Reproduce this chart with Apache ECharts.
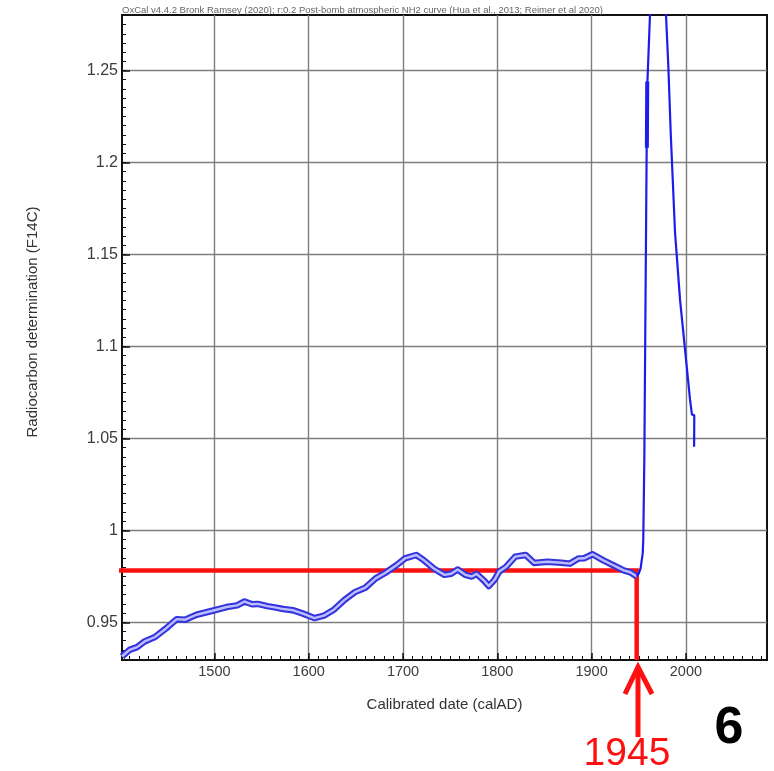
<!DOCTYPE html>
<html>
<head>
<meta charset="utf-8">
<script src="https://cdn.jsdelivr.net/npm/echarts@6/dist/echarts.min.js"></script>
<style>
html, body { margin: 0; padding: 0; background: #fff; }
#chart { width: 774px; height: 771px; }
</style>
</head>
<body>
<div id="chart"></div>
<script>
// calibration band before the bomb peak (calAD, F14C)
var bandYears = [1402, 1410, 1418, 1426, 1437, 1449, 1460, 1469, 1481, 1499,
    1513, 1524, 1532, 1540, 1546, 1556, 1564, 1573, 1583, 1594,
    1606, 1616, 1627, 1638, 1649, 1660, 1671, 1681, 1693, 1702,
    1714, 1722, 1733, 1744, 1751, 1758, 1766, 1773, 1778, 1786,
    1791, 1797, 1802, 1809, 1819, 1830, 1839, 1853, 1868, 1877,
    1886, 1892, 1901, 1912, 1923, 1934, 1941, 1948];
var bandValues = [0.9314, 0.9350, 0.9365, 0.9396, 0.9420, 0.9468, 0.9517, 0.9514, 0.9541, 0.9564,
    0.9583, 0.9592, 0.9613, 0.9598, 0.9600, 0.9588, 0.9581, 0.9572, 0.9566, 0.9547,
    0.9523, 0.9536, 0.9570, 0.9622, 0.9664, 0.9688, 0.9739, 0.9768, 0.9810, 0.9847,
    0.9866, 0.9838, 0.9791, 0.9758, 0.9764, 0.9787, 0.9758, 0.9749, 0.9763, 0.9726,
    0.9697, 0.9731, 0.9776, 0.9800, 0.9857, 0.9866, 0.9823, 0.9829, 0.9824, 0.9819,
    0.9847, 0.9848, 0.9870, 0.9838, 0.9810, 0.9782, 0.9772, 0.9749];

// post-bomb curve (goes off the top of the plot)
var bombYears = [1948, 1950, 1952, 1954.2, 1954.8, 1955.9, 1958.4, 1959.2, 1961.9, 1964,
    1967, 1972, 1978.9, 1981.4, 1983.9, 1988.5, 1993.8, 1999.1, 2004.4, 2006.4,
    2008.9, 2008.7];
var bombValues = [0.9749, 0.9765, 0.9795, 0.9876, 0.9948, 1.0383, 1.2084, 1.2440, 1.2802, 1.75,
    1.80, 1.50, 1.2802, 1.2521, 1.2159, 1.1617, 1.1253, 1.0981, 1.0709, 1.0630,
    1.0625, 1.0455];
var bombWideYears = [1958.6, 1959.0];
var bombWideValues = [1.208, 1.244];

// red marker
var markLevel = 0.9782;
var markYear = 1947.8;
var markStartYear = 1389.3;
var markLabel = '1945';

var xMin = 1402, xMax = 2086;
var yMin = 0.9295, yMax = 1.2802;

var caption = 'OxCal v4.4.2 Bronk Ramsey (2020); r:0.2 Post-bomb atmospheric NH2 curve (Hua et al., 2013; Reimer et al 2020)';

function pairs(xs, ys) {
    var out = [];
    for (var i = 0; i < xs.length; i++) out.push([xs[i], ys[i]]);
    return out;
}

// minor tick positions
var xMinorTicks = [];
for (var yr = 1410; yr < xMax; yr += 10) xMinorTicks.push(yr);
var yMinorTicks = [];
for (var k = 186; k * 0.005 < yMax; k++) yMinorTicks.push(+(k * 0.005).toFixed(3));

var font = 'Liberation Sans, Arial, sans-serif';
var plain = function (v) { return String(v); };

var myChart = echarts.init(document.getElementById('chart'));
myChart.setOption({
    animation: false,
    backgroundColor: '#fff',
    textStyle: { fontFamily: font },
    grid: {
        left: 122, right: 7, top: 15, bottom: 111,
        show: true, borderColor: '#111', borderWidth: 2,
        outerBoundsMode: 'none'
    },
    xAxis: [
        {
            type: 'value', min: xMin, max: xMax, splitNumber: 7,
            minInterval: 100, maxInterval: 100, position: 'bottom',
            name: 'Calibrated date (calAD)', nameLocation: 'middle', nameGap: 37,
            nameTextStyle: { color: '#333', fontSize: 15, fontFamily: font },
            axisLine: { show: true, lineStyle: { color: '#111', width: 2 } },
            axisTick: { inside: true, length: 7, lineStyle: { color: '#111', width: 1.5 } },
            axisLabel: { color: '#3c3c3c', fontSize: 14.5, margin: 4, fontFamily: font,
                showMinLabel: false, showMaxLabel: false, formatter: plain },
            splitLine: { show: true, showMinLine: false, showMaxLine: false,
                lineStyle: { color: '#7e7e7e', width: 1.4 } }
        },
        {
            type: 'value', min: xMin, max: xMax, position: 'bottom', offset: 0,
            axisLine: { show: false }, axisLabel: { show: false }, splitLine: { show: false },
            axisTick: { inside: true, length: 4, customValues: xMinorTicks,
                lineStyle: { color: '#111', width: 1 } }
        }
    ],
    yAxis: [
        {
            type: 'value', min: yMin, max: yMax, splitNumber: 7,
            minInterval: 0.05, maxInterval: 0.05, position: 'left',
            axisLine: { show: true, lineStyle: { color: '#111', width: 2 } },
            axisTick: { inside: true, length: 8, lineStyle: { color: '#111', width: 1.5 } },
            axisLabel: { color: '#3c3c3c', fontSize: 16, margin: 4, fontFamily: font,
                showMinLabel: false, showMaxLabel: false, formatter: plain },
            splitLine: { show: true, showMinLine: false, showMaxLine: false,
                lineStyle: { color: '#7e7e7e', width: 1.4 } }
        },
        {
            type: 'value', min: yMin, max: yMax, position: 'left', offset: 0,
            axisLine: { show: false }, axisLabel: { show: false }, splitLine: { show: false },
            axisTick: { inside: true, length: 4, customValues: yMinorTicks,
                lineStyle: { color: '#111', width: 1 } }
        }
    ],
    series: [
        {
            name: 'marker', type: 'line', clip: false, silent: true, z: 2,
            showSymbol: false, symbol: 'none',
            data: [[markStartYear, markLevel], [markYear, markLevel], [markYear, yMin]],
            lineStyle: { color: '#ff1010', width: 4.5, join: 'miter', cap: 'butt' }
        },
        {
            name: 'band', type: 'line', showSymbol: false, symbol: 'none', z: 3,
            data: pairs(bandYears, bandValues),
            lineStyle: { color: '#3434dc', width: 6.5, join: 'round' }
        },
        {
            name: 'bandInner', type: 'line', showSymbol: false, symbol: 'none', z: 4,
            data: pairs(bandYears, bandValues),
            lineStyle: { color: '#bcbcff', width: 2.4, join: 'round' }
        },
        {
            name: 'bomb', type: 'line', showSymbol: false, symbol: 'none', z: 5,
            data: pairs(bombYears, bombValues),
            lineStyle: { color: '#1c1cf0', width: 2.2 }
        },
        {
            name: 'bombWide', type: 'line', showSymbol: false, symbol: 'none', z: 5,
            data: pairs(bombWideYears, bombWideValues),
            lineStyle: { color: '#1c1cf0', width: 4 }
        }
    ],
    graphic: [
        { type: 'text', left: 122, top: 5, silent: true,
          style: { text: caption, fill: '#666', font: '9.5px ' + font } },
        { type: 'text', x: 33, y: 322, rotation: Math.PI / 2, silent: true,
          style: { text: 'Radiocarbon determination (F14C)', fill: '#333', font: '15px ' + font,
                   align: 'center', verticalAlign: 'middle' } },
        { type: 'polyline', silent: true,
          shape: { points: [[625, 694], [638, 667], [652, 694]] },
          style: { stroke: '#ff1010', lineWidth: 5, fill: null, lineJoin: 'miter' } },
        { type: 'line', silent: true,
          shape: { x1: 638, y1: 669, x2: 638, y2: 737 },
          style: { stroke: '#ff1010', lineWidth: 5 } },
        { type: 'text', x: 627, y: 754, silent: true,
          style: { text: markLabel, fill: '#ff1010', font: '39px ' + font,
                   align: 'center', verticalAlign: 'middle' } },
        { type: 'text', x: 729, y: 729, silent: true,
          style: { text: '6', fill: '#000', font: 'bold 52px ' + font,
                   align: 'center', verticalAlign: 'middle' } }
    ]
});
</script>
</body>
</html>
